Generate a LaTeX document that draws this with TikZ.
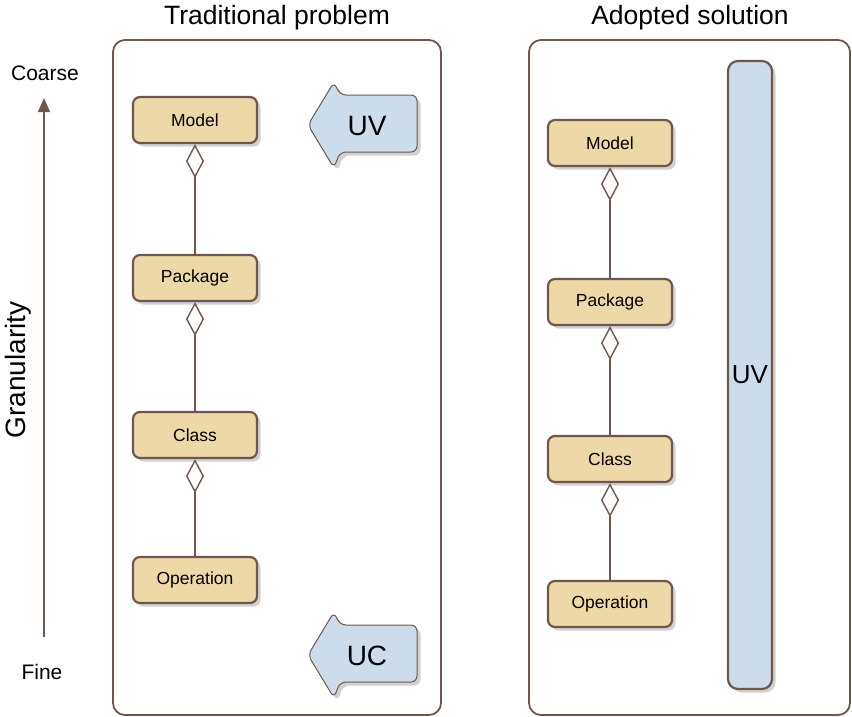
\documentclass[tikz,border=0pt]{standalone}
\usepackage{fontspec}
\setmainfont{Liberation Sans}
\usetikzlibrary{arrows.meta,shadows}
\definecolor{edge}{RGB}{110,88,78}
\definecolor{tan}{RGB}{237,216,168}
\definecolor{sky}{RGB}{205,220,234}
\tikzset{
  shad/.style={drop shadow={shadow xshift=3.5pt,shadow yshift=-3.5pt,opacity=0.45,fill=black!40}},
  elem/.style={shad, draw=edge, line width=2.2pt, fill=tan, rounded corners=7pt,
    minimum width=124pt, minimum height=46pt, font=\fontsize{17.5}{20}\selectfont},
  part/.style={draw=edge, line width=1.4pt, {Diamond[open,length=34pt,width=18pt]}-},
  frame/.style={draw=edge, line width=1.8pt, rounded corners=12pt},
  view/.style={shad, draw=edge, line width=1pt, fill=sky, rounded corners=6pt},
}
\begin{document}
\begin{tikzpicture}[x=1pt,y=-1pt]
\useasboundingbox (0,0) rectangle (852,716);
% frames and titles
\draw[frame] (113,40) rectangle (441,715);
\draw[frame] (529,40) rectangle (850,715);
\node[font=\fontsize{26.5}{30}\selectfont] (tleft) at (277,18) {Traditional problem};
\node[font=\fontsize{26.5}{30}\selectfont] (tright) at (690,18) {Adopted solution};
% granularity axis
\node[font=\fontsize{21}{24}\selectfont] (coarse) at (45,73) {Coarse};
\node[font=\fontsize{21}{24}\selectfont] (fine) at (42,672) {Fine};
\node[font=\fontsize{28}{32}\selectfont, rotate=90] (gran) at (18,370) {Granularity};
\coordinate (gfrom) at (44,637);
\coordinate (gto) at (44,98);
\draw[edge, line width=1.4pt, -{Triangle[length=14pt,width=12pt]}] (gfrom) -- (gto);
% traditional problem
\node[elem] (lmodel) at (195,120) {Model};
\node[elem] (lpackage) at (195,278) {Package};
\node[elem] (lclass) at (195,435) {Class};
\node[elem] (loperation) at (195,580) {Operation};
\draw[part] (lmodel.south) -- (lpackage.north);
\draw[part] (lpackage.south) -- (lclass.north);
\draw[part] (lclass.south) -- (loperation.north);
\draw[view] (308,125) -- (334,82) -- (340,95) -- (417,95) -- (417,152) -- (340,152) -- (334,168) -- cycle;
\node[font=\fontsize{28}{32}\selectfont] (uv) at (367,126) {UV};
\draw[view] (308,655) -- (334,612) -- (340,625) -- (417,625) -- (417,682) -- (340,682) -- (334,698) -- cycle;
\node[font=\fontsize{28}{32}\selectfont] (uc) at (367,656) {UC};
% adopted solution
\node[elem] (rmodel) at (610,143) {Model};
\node[elem] (rpackage) at (610,302) {Package};
\node[elem] (rclass) at (610,459) {Class};
\node[elem] (roperation) at (610,604) {Operation};
\draw[part] (rmodel.south) -- (rpackage.north);
\draw[part] (rpackage.south) -- (rclass.north);
\draw[part] (rclass.south) -- (roperation.north);
\node[shad, draw=edge, line width=2.2pt, fill=sky, rounded corners=10pt,
  minimum width=44pt, minimum height=628pt, font=\fontsize{26}{30}\selectfont] (uvbar) at (750,375) {UV};
\end{tikzpicture}
\end{document}
